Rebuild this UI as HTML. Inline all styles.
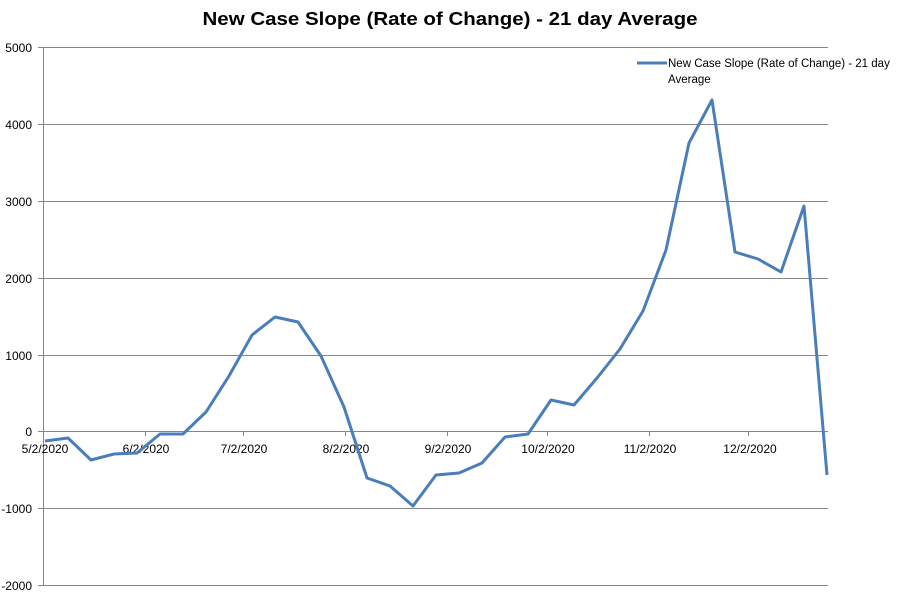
<!DOCTYPE html>
<html><head><meta charset="utf-8"><style>
body{margin:0;background:#fff;}
svg{display:block;font-family:"Liberation Sans",sans-serif;}
</style></head><body>
<svg width="897" height="597" xmlns="http://www.w3.org/2000/svg">
<rect width="897" height="597" fill="#fff"/>
<text x="450" y="25" text-anchor="middle" font-size="18" font-weight="bold" fill="#000" textLength="495" lengthAdjust="spacingAndGlyphs">New Case Slope (Rate of Change) - 21 day Average</text>
<g stroke="#868686" stroke-width="1">
<line x1="43" y1="47.5" x2="828" y2="47.5"/>
<line x1="43" y1="124.5" x2="828" y2="124.5"/>
<line x1="43" y1="201.5" x2="828" y2="201.5"/>
<line x1="43" y1="278.5" x2="828" y2="278.5"/>
<line x1="43" y1="355.5" x2="828" y2="355.5"/>
<line x1="43" y1="431.5" x2="828" y2="431.5"/>
<line x1="43" y1="508.5" x2="828" y2="508.5"/>
<line x1="43" y1="585.5" x2="828" y2="585.5"/>
<line x1="43.5" y1="47" x2="43.5" y2="586"/>
<line x1="38" y1="47.5" x2="43" y2="47.5"/>
<line x1="38" y1="124.5" x2="43" y2="124.5"/>
<line x1="38" y1="201.5" x2="43" y2="201.5"/>
<line x1="38" y1="278.5" x2="43" y2="278.5"/>
<line x1="38" y1="355.5" x2="43" y2="355.5"/>
<line x1="38" y1="431.5" x2="43" y2="431.5"/>
<line x1="38" y1="508.5" x2="43" y2="508.5"/>
<line x1="38" y1="585.5" x2="43" y2="585.5"/>
<line x1="145.5" y1="431" x2="145.5" y2="436"/>
<line x1="243.5" y1="431" x2="243.5" y2="436"/>
<line x1="345.5" y1="431" x2="345.5" y2="436"/>
<line x1="447.5" y1="431" x2="447.5" y2="436"/>
<line x1="547.5" y1="431" x2="547.5" y2="436"/>
<line x1="649.5" y1="431" x2="649.5" y2="436"/>
<line x1="748.5" y1="431" x2="748.5" y2="436"/>
</g>
<g font-size="12" fill="#000" text-anchor="end">
<text x="32" y="52">5000</text>
<text x="32" y="129">4000</text>
<text x="32" y="206">3000</text>
<text x="32" y="283">2000</text>
<text x="32" y="360">1000</text>
<text x="32" y="436">0</text>
<text x="32" y="513">-1000</text>
<text x="32" y="590">-2000</text>
</g>
<g font-size="12" fill="#000" text-anchor="middle">
<text x="45" y="453">5/2/2020</text>
<text x="146" y="453">6/2/2020</text>
<text x="244" y="453">7/2/2020</text>
<text x="346" y="453">8/2/2020</text>
<text x="448" y="453">9/2/2020</text>
<text x="548" y="453">10/2/2020</text>
<text x="650" y="453">11/2/2020</text>
<text x="750" y="453">12/2/2020</text>
</g>
<polyline fill="none" stroke="#4a7ebb" stroke-width="3" stroke-linejoin="round" points="45,441 68,438 91,460 114,454 137,453 160,434 183,434 206,412 229,376 252,335 275,317 298,322 321,356 344,407 367,478 390,486 413,506 436,475 459,473 482,463 505,437 528,434 551,400 574,405 597,378 620,349 643,311 666,250 689,143 712,100 735,252 758,259 781,272 804,206 827,475"/>
<line x1="637" y1="63" x2="667" y2="63" stroke="#4a7ebb" stroke-width="3"/>
<text x="668" y="67" font-size="11.5" fill="#000">New Case Slope (Rate of Change) - 21 day</text>
<text x="668" y="83" font-size="11.5" fill="#000">Average</text>
</svg>
</body></html>
